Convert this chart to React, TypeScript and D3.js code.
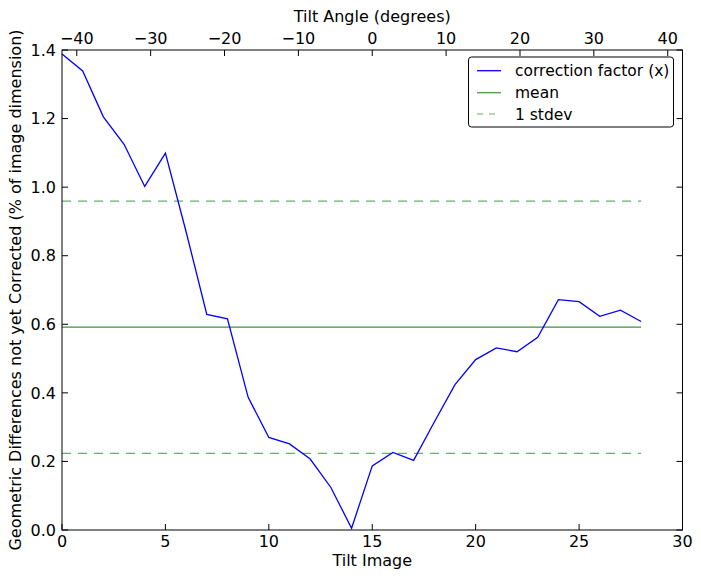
import React from "react";
import * as d3 from "d3";

const tiltImages: number[] = Array.from({ length: 29 }, (_, i) => i);
const correctionFactor: number[] = [
  1.388, 1.339, 1.205, 1.125, 1.002, 1.099, 0.87, 0.629, 0.616, 0.387,
  0.27, 0.251, 0.207, 0.124, 0.005, 0.187, 0.226, 0.203, 0.315, 0.424,
  0.497, 0.531, 0.52, 0.562, 0.672, 0.666, 0.623, 0.641, 0.608,
];
const meanValue = 0.5915;
const stdevValue = 0.368;
const bottomTicks = [0, 5, 10, 15, 20, 25, 30];
const topTicks = [-40, -30, -20, -10, 0, 10, 20, 30, 40];
const leftTicks = [0, 0.2, 0.4, 0.6, 0.8, 1.0, 1.2, 1.4];
const legendLabels = ["correction factor (x)", "mean", "1 stdev"];

const W = 701;
const H = 579;
const L = 62, R = 682.5, T = 50, B = 530;
const FONT = "DejaVu Sans, sans-serif";
const MEAN_COLOR = "#3f923f";
const STD_COLOR = "#6aae6a";

export default function App() {
  const x = d3.scaleLinear().domain([0, 30]).range([L, R]);
  const xTop = d3.scaleLinear().domain([-42, 42]).range([L, R]);
  const y = d3.scaleLinear().domain([0, 1.4]).range([B, T]);
  const line = d3
    .line<number>()
    .x((_, i) => x(tiltImages[i]))
    .y((d) => y(d));
  const fmtTop = (v: number) => (v < 0 ? "\u2212" + Math.abs(v) : String(v));
  const tk = 6;
  const x0 = x(tiltImages[0]);
  const x1 = x(tiltImages[tiltImages.length - 1]);
  const lgX = 468.5, lgY = 57, lgW = 205, lgH = 70;
  const rows = [70.7, 92.7, 114];
  return (
    <div style={{ margin: "-8px" }}>
      <svg width={W} height={H} style={{ display: "block", background: "#fff" }} fontFamily={FONT}>
        <rect x={0} y={0} width={W} height={H} fill="#fff" />
        {/* mean and stdev */}
        <line x1={x0} x2={x1} y1={y(meanValue)} y2={y(meanValue)} stroke={MEAN_COLOR} strokeWidth={1.2} />
        <line x1={x0} x2={x1} y1={y(meanValue + stdevValue)} y2={y(meanValue + stdevValue)} stroke={STD_COLOR} strokeWidth={1.2} strokeDasharray="9,7" />
        <line x1={x0} x2={x1} y1={y(meanValue - stdevValue)} y2={y(meanValue - stdevValue)} stroke={STD_COLOR} strokeWidth={1.2} strokeDasharray="9,7" />
        {/* data line */}
        <path d={line(correctionFactor) || ""} fill="none" stroke="#0000ff" strokeWidth={1.3} />
        {/* frame */}
        <rect x={L} y={T} width={R - L} height={B - T} fill="none" stroke="#000" strokeWidth={1} />
        {/* bottom ticks */}
        {bottomTicks.map((v) => (
          <g key={"b" + v}>
            <line x1={x(v)} x2={x(v)} y1={B} y2={B - tk} stroke="#000" />
            <text x={x(v)} y={547} fontSize={16} textAnchor="middle">{v}</text>
          </g>
        ))}
        {/* top ticks */}
        {topTicks.map((v) => (
          <g key={"t" + v}>
            <line x1={xTop(v)} x2={xTop(v)} y1={T} y2={T + tk} stroke="#000" />
            <text x={xTop(v)} y={44} fontSize={16} textAnchor="middle">{fmtTop(v)}</text>
          </g>
        ))}
        {/* left/right ticks */}
        {leftTicks.map((v) => (
          <g key={"l" + v}>
            <line x1={L} x2={L + tk} y1={y(v)} y2={y(v)} stroke="#000" />
            <line x1={R} x2={R - tk} y1={y(v)} y2={y(v)} stroke="#000" />
            <text x={56} y={y(v)} dy="0.36em" fontSize={16} textAnchor="end">{v.toFixed(1)}</text>
          </g>
        ))}
        {/* axis labels */}
        <text x={(L + R) / 2} y={566} fontSize={16} textAnchor="middle">Tilt Image</text>
        <text x={(L + R) / 2} y={22} fontSize={16} textAnchor="middle">Tilt Angle (degrees)</text>
        <text transform={`translate(21,${(T + B) / 2}) rotate(-90)`} fontSize={16} textAnchor="middle">
          Geometric Differences not yet Corrected (% of image dimension)
        </text>
        {/* legend */}
        <rect x={lgX} y={lgY} width={lgW} height={lgH} rx={3} fill="#fff" stroke="#000" strokeWidth={1} />
        <line x1={477} x2={501} y1={rows[0]} y2={rows[0]} stroke="#0000ff" strokeWidth={1.3} />
        <line x1={477} x2={501} y1={rows[1]} y2={rows[1]} stroke={MEAN_COLOR} strokeWidth={1.2} />
        <line x1={477} x2={501} y1={rows[2]} y2={rows[2]} stroke={STD_COLOR} strokeWidth={1.2} strokeDasharray="6,6" />
        {legendLabels.map((s, i) => (
          <text key={s} x={515} y={rows[i]} dy="0.36em" fontSize={15.5}>{s}</text>
        ))}
      </svg>
    </div>
  );
}
